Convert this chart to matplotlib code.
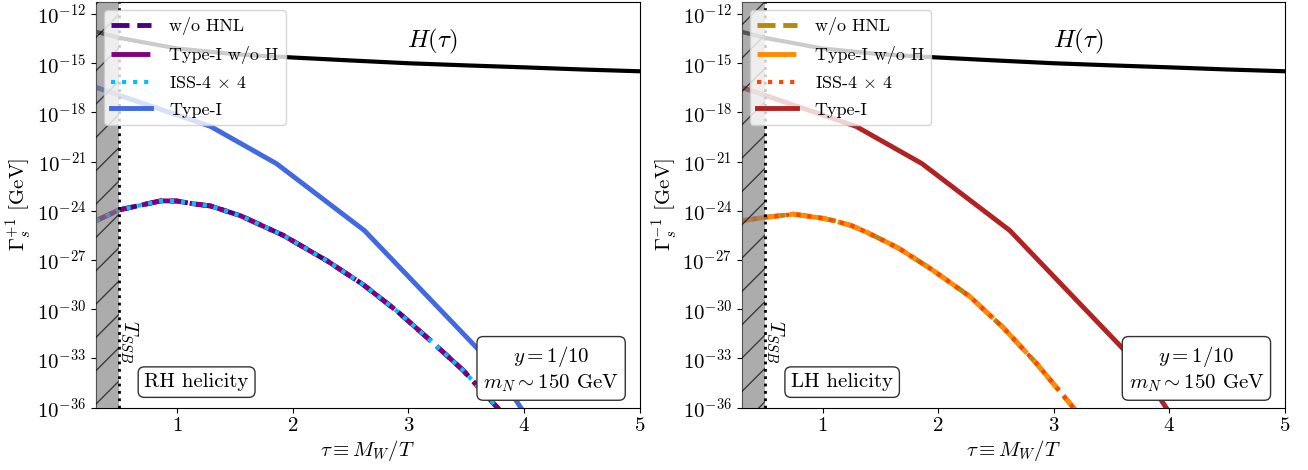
import numpy as np
import matplotlib
matplotlib.use('Agg')
import matplotlib.pyplot as plt
from matplotlib.ticker import FixedLocator, NullLocator, LogFormatterSciNotation

plt.rcParams['font.family'] = 'serif'
plt.rcParams['font.serif'] = ['cmr10']
plt.rcParams['mathtext.fontset'] = 'cm'
plt.rcParams['axes.formatter.use_mathtext'] = True
plt.rcParams['font.size'] = 15

# Hubble rate (log10 GeV)
tau_H = [0.3, 0.5, 1.0, 1.5, 2.0, 2.5, 3.0, 3.5, 4.0, 4.5, 5.0]
logH = [-13.08, -13.45, -14.1, -14.45, -14.65, -14.83, -15.0, -15.13, -15.25, -15.38, -15.49]

# Type-I (full), same in both panels
tau_typeI = [0.3, 1.29, 1.86, 2.62, 3.72, 4.0]
logG_typeI = [-16.47, -18.85, -21.12, -25.2, -33.3, -36.3]

# RH helicity, curves without HNL / type-I w/o H / ISS (on top of each other)
tau_RH = [0.3, 0.5, 0.86, 1.0, 1.14, 1.29, 1.55, 1.92, 2.3, 2.61, 2.9, 3.19, 3.47, 3.77, 4.0]
logG_RH = [-24.6, -23.94, -23.39, -23.4, -23.57, -23.7, -24.3, -25.5, -27.06, -28.5,
           -30.1, -31.9, -33.7, -36.0, -37.8]

# LH helicity
tau_LH = [0.3, 0.5, 0.75, 1.0, 1.1, 1.25, 1.38, 1.54, 1.67, 1.95, 2.27, 2.56, 2.85, 3.17, 3.4]
logG_LH = [-24.6, -24.4, -24.2, -24.45, -24.6, -24.9, -25.3, -25.85, -26.33, -27.6,
           -29.2, -31.1, -33.3, -36.0, -38.0]

labels = ['w/o HNL', 'Type-I w/o H', r'ISS-4 $\times$ 4', 'Type-I']
colors_RH = ['indigo', 'purple', 'deepskyblue', 'royalblue']
colors_LH = ['darkgoldenrod', 'darkorange', 'orangered', 'firebrick']

fig = plt.figure(figsize=(13.08, 4.70), dpi=100)
ax1 = fig.add_axes([0.0734, 0.1326, 0.4157, 0.863])
ax2 = fig.add_axes([0.567, 0.1326, 0.4154, 0.863])


def panel(ax, tau, logG, cols, ylab, hel):
    G = 10 ** np.array(logG)
    GI = 10 ** np.array(logG_typeI)
    ax.plot(tau, G, color=cols[0], ls='--', lw=3.5, label=labels[0])
    ax.plot(tau, G, color=cols[1], ls=(0, (8, 2)), lw=3.5, label=labels[1])
    ax.plot(tau, G, color=cols[2], ls=':', lw=3, label=labels[2])
    ax.plot(tau_typeI, GI, color=cols[3], lw=3.5, label=labels[3])
    ax.plot(tau_H, 10 ** np.array(logH), color='black', lw=3)

    ax.axvspan(0.3, 0.5, facecolor='gray', edgecolor='black', hatch='/',
               alpha=0.65, lw=0, zorder=3)
    ax.axvline(0.5, color='black', ls=':', lw=2, zorder=3)
    ax.text(0.585, 10 ** -31.96, r'$T_{SSB}$', rotation=-90, ha='center', va='center')
    ax.text(3.21, 10 ** -13.7, r'$H(\tau)$', fontsize=18, ha='center', va='center')

    box = dict(boxstyle='round,pad=0.3', facecolor='white', edgecolor='0.2')
    ax.text(0.185, 0.063, hel, transform=ax.transAxes, ha='center', va='center', bbox=box)
    ax.text(0.837, 0.095, '$y = 1/10$\n$m_N \\sim 150$ GeV', transform=ax.transAxes,
            ha='center', va='center', multialignment='center', bbox=box)

    ax.set_yscale('log')
    ax.set_xlim(0.3, 5)
    ax.set_ylim(1e-36, 10 ** -11.27)
    ax.yaxis.set_major_locator(FixedLocator([10.0 ** k for k in range(-36, -11, 3)]))
    ax.yaxis.set_major_formatter(LogFormatterSciNotation())
    ax.yaxis.set_minor_locator(NullLocator())
    ax.set_xticks([1, 2, 3, 4, 5])
    ax.set_xlabel(r'$\tau \equiv M_W/T$', labelpad=2)
    ax.set_ylabel(ylab, labelpad=2)
    ax.legend(loc='upper left', fontsize=13, labelspacing=0.6, handletextpad=1.0,
              handlelength=2.2, borderaxespad=0.45)


panel(ax1, tau_RH, logG_RH, colors_RH, r'$\Gamma_s^{+1}$ [GeV]', 'RH helicity')
panel(ax2, tau_LH, logG_LH, colors_LH, r'$\Gamma_s^{-1}$ [GeV]', 'LH helicity')

fig.savefig('out.png', dpi=100)
